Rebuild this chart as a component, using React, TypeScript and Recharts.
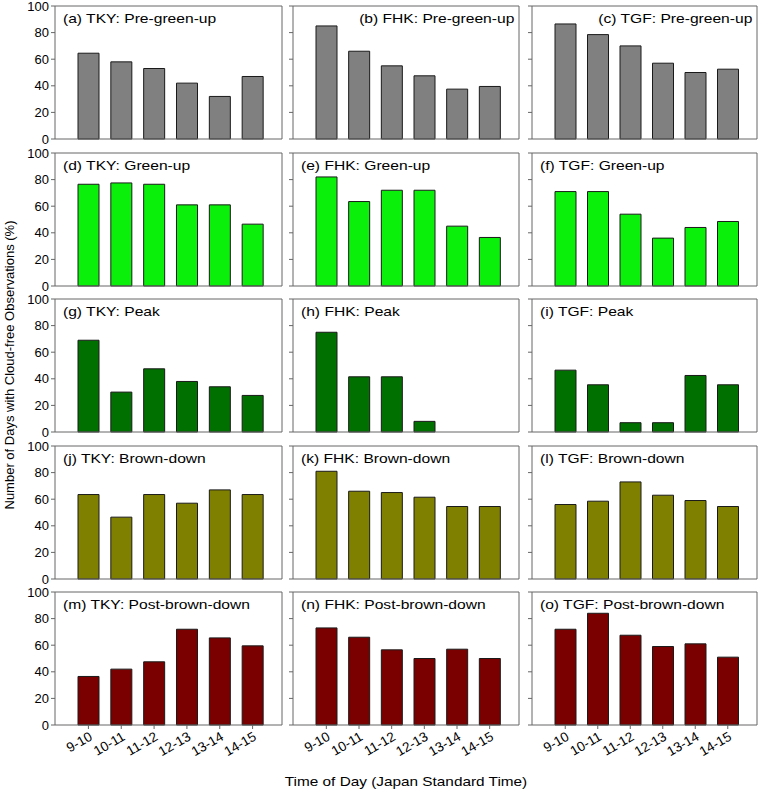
import { BarChart, Bar, XAxis, YAxis, CartesianGrid } from 'recharts';

const hours = ['9-10', '10-11', '11-12', '12-13', '13-14', '14-15'];
const yTicks = [0, 20, 40, 60, 80, 100];

// (a)-(c) pre-green-up
const tkyPre = [64.5, 58, 53, 42, 32, 47];
const fhkPre = [85, 66, 55, 47.5, 37.5, 39.5];
const tgfPre = [86.5, 78.5, 70, 57, 50, 52.5];
// (d)-(f) green-up
const tkyGreen = [76.5, 77.5, 76.5, 61, 61, 46.5];
const fhkGreen = [82, 63.5, 72, 72, 45, 36.5];
const tgfGreen = [71, 71, 54, 36, 44, 48.5];
// (g)-(i) peak
const tkyPeak = [69, 30, 47.5, 38, 34, 27.5];
const fhkPeak = [75, 41.5, 41.5, 8, 0, 0];
const tgfPeak = [46.5, 35.5, 7, 7, 42.5, 35.5];
// (j)-(l) brown-down
const tkyBrown = [63.5, 46.5, 63.5, 57, 67, 63.5];
const fhkBrown = [81, 66, 65, 61.5, 54.5, 54.5];
const tgfBrown = [56, 58.5, 73, 63, 59, 54.5];
// (m)-(o) post-brown-down
const tkyPost = [36.5, 42, 47.5, 72, 65.5, 59.5];
const fhkPost = [73, 66, 56.5, 50, 57, 50];
const tgfPost = [72, 84, 67.5, 59, 61, 51];

const panels = [
  { title: '(a) TKY: Pre-green-up', values: tkyPre, color: '#808080' },
  { title: '(b) FHK: Pre-green-up', values: fhkPre, color: '#808080', right: true },
  { title: '(c) TGF: Pre-green-up', values: tgfPre, color: '#808080', right: true },
  { title: '(d) TKY: Green-up', values: tkyGreen, color: '#0af00a' },
  { title: '(e) FHK: Green-up', values: fhkGreen, color: '#0af00a' },
  { title: '(f) TGF: Green-up', values: tgfGreen, color: '#0af00a' },
  { title: '(g) TKY: Peak', values: tkyPeak, color: '#007000' },
  { title: '(h) FHK: Peak', values: fhkPeak, color: '#007000' },
  { title: '(i) TGF: Peak', values: tgfPeak, color: '#007000' },
  { title: '(j) TKY: Brown-down', values: tkyBrown, color: '#808000' },
  { title: '(k) FHK: Brown-down', values: fhkBrown, color: '#808000' },
  { title: '(l) TGF: Brown-down', values: tgfBrown, color: '#808000' },
  { title: '(m) TKY: Post-brown-down', values: tkyPost, color: '#7a0000' },
  { title: '(n) FHK: Post-brown-down', values: fhkPost, color: '#7a0000' },
  { title: '(o) TGF: Post-brown-down', values: tgfPost, color: '#7a0000' },
];

const colX = [55, 293, 532];
const colW = [227, 226, 225];
const rowY = [6, 153, 299, 446, 592];
const PLOT_H = 133;
const YW = 45;
const PAD = 10;
const FRAME = '#666';
const FONT = '"Liberation Sans", Arial, sans-serif';

type PanelProps = {
  title: string;
  values: number[];
  color: string;
  right?: boolean;
  row: number;
  col: number;
};

const Panel = ({ title, values, color, right, row, col }: PanelProps) => {
  const data = hours.map((hour, i) => ({ hour, value: values[i] }));
  const last = row === 4;
  const xh = last ? 60 : 8;
  return (
    <>
      <div style={{ position: 'absolute', left: colX[col] - YW, top: rowY[row] - PAD }}>
        <BarChart
          width={YW + colW[col] + 2}
          height={PAD + PLOT_H + xh}
          data={data}
          margin={{ top: PAD, right: 2, left: 0, bottom: 0 }}
          barSize={21}
          style={{ fontFamily: FONT }}
        >
          {/* top and right edges of the frame */}
          <CartesianGrid
            horizontalPoints={[PAD]}
            verticalPoints={[YW + colW[col]]}
            stroke={FRAME}
            strokeWidth={1}
          />
          <XAxis
            dataKey="hour"
            height={xh}
            interval={0}
            tickSize={4}
            padding={{ left: 17, right: 13 }}
            stroke={FRAME}
            tick={last ? { fill: '#000', fontSize: 13.5 } : false}
            angle={last ? -30 : 0}
            textAnchor={last ? 'end' : 'middle'}
          />
          <YAxis
            domain={[0, 100]}
            ticks={yTicks}
            interval={0}
            width={YW}
            tickSize={4}
            stroke={FRAME}
            tick={{ fill: '#000', fontSize: 13 }}
            tickFormatter={(v: number) => (col === 0 ? String(v) : '')}
          />
          <Bar dataKey="value" fill={color} stroke="#1a1a1a" strokeWidth={1} isAnimationActive={false} />
        </BarChart>
      </div>
      <div
        style={{
          position: 'absolute',
          top: rowY[row] + 5,
          left: right ? undefined : colX[col] + 8,
          right: right ? 758 - (colX[col] + colW[col]) + 5 : undefined,
          fontFamily: FONT,
          fontSize: 13,
          lineHeight: '15px',
          whiteSpace: 'nowrap',
          transform: 'scaleX(1.2)',
          transformOrigin: right ? 'right' : 'left',
        }}
      >
        {title}
      </div>
    </>
  );
};

const App = () => {
  return (
    <div style={{ position: 'relative', width: 758, height: 792, background: '#fff', overflow: 'hidden' }}>
      <style>{'body{margin:0}'}</style>
      {panels.map((p, i) => (
        <Panel key={p.title} {...p} row={Math.floor(i / 3)} col={i % 3} />
      ))}
      <div
        style={{
          position: 'absolute',
          left: 10 - 200,
          top: 365 - 8,
          width: 400,
          textAlign: 'center',
          fontFamily: FONT,
          fontSize: 13,
          lineHeight: '16px',
          transform: 'rotate(-90deg)',
          whiteSpace: 'nowrap',
        }}
      >
        Number of Days with Cloud-free Observations (%)
      </div>
      <div
        style={{
          position: 'absolute',
          left: 406 - 150,
          top: 774,
          width: 300,
          textAlign: 'center',
          fontFamily: FONT,
          fontSize: 13,
          lineHeight: '16px',
          transform: 'scaleX(1.18)',
          whiteSpace: 'nowrap',
        }}
      >
        Time of Day (Japan Standard Time)
      </div>
    </div>
  );
};

export default App;
